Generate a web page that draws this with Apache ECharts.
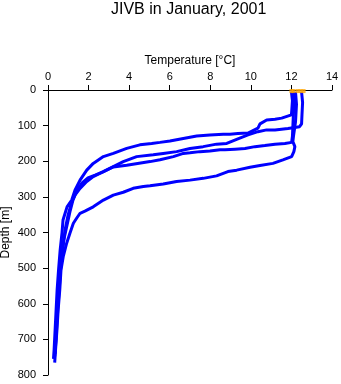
<!DOCTYPE html>
<html>
<head>
<meta charset="utf-8">
<script src="https://cdn.jsdelivr.net/npm/echarts@6/dist/echarts.min.js"></script>
<style>
html,body{margin:0;padding:0;background:#fff;}
#chart{width:341px;height:384px;}
</style>
</head>
<body>
<div id="chart"></div>
<script>
var titleText = 'JIVB in January, 2001';
var xName = 'Temperature [\u00B0C]';
var yName = 'Depth [m]';
var xTicks = [0, 2, 4, 6, 8, 10, 12, 14];
var yTicks = [0, 100, 200, 300, 400, 500, 600, 700, 800];

var p1Temp = [12.0, 12.05, 12.02, 12.0, 11.52, 11.19, 10.78, 10.45, 10.35, 9.86, 9.36, 8.97, 8.64, 7.98, 7.33, 6.67, 6.01, 5.52, 5.11, 4.53, 3.88, 3.22, 2.73, 2.23, 1.91, 1.58, 1.33, 1.17, 0.94, 0.74, 0.69, 0.6, 0.52, 0.45, 0.4, 0.35, 0.3, 0.27];
var p1Depth = [5, 30, 55, 70, 79, 82, 84, 95, 107, 121, 122, 124, 124, 126, 129, 136, 143, 147, 150, 154, 164, 178, 187, 206, 225, 253, 281, 309, 328, 365, 401, 449, 505, 561, 617, 674, 730, 755];

var p2Temp = [12.5, 12.55, 12.52, 12.5, 12.4, 11.83, 11.19, 10.78, 10.35, 9.86, 9.36, 8.81, 8.31, 7.65, 7.0, 6.34, 5.68, 5.19, 4.37, 3.71, 3.22, 2.73, 2.23, 1.91, 1.58, 1.33, 1.17, 0.99, 0.84, 0.72, 0.62, 0.55, 0.48, 0.42, 0.37, 0.33];
var p2Depth = [5, 35, 70, 95, 103, 108, 112, 112, 117, 126, 137, 150, 152, 159, 164, 173, 178, 182, 187, 201, 215, 229, 243, 257, 276, 295, 314, 351, 393, 449, 505, 561, 617, 674, 720, 748];

var p3Temp = [12.1, 12.12, 12.08, 12.05, 12.01, 11.68, 11.19, 10.69, 10.2, 9.71, 9.22, 8.72, 8.48, 7.98, 7.49, 7.0, 6.67, 6.18, 5.52, 5.03, 3.88, 3.22, 2.71, 2.32, 1.97, 1.68, 1.43, 1.23, 1.08, 0.94, 0.78, 0.66, 0.57, 0.5, 0.43, 0.38, 0.35];
var p3Depth = [5, 40, 90, 130, 147, 150, 152, 156, 159, 164, 166, 168, 168, 171, 173, 176, 178, 187, 196, 201, 211, 216, 230, 239, 247, 261, 281, 309, 342, 379, 420, 470, 520, 580, 640, 700, 740];

var p4Temp = [12.2, 12.25, 12.2, 12.1, 12.07, 12.17, 12.12, 12.01, 11.58, 11.09, 10.45, 9.96, 9.3, 8.87, 8.31, 7.65, 7.0, 6.34, 5.68, 5.03, 4.7, 4.2, 3.71, 3.22, 2.73, 2.23, 1.82, 1.58, 1.41, 1.25, 1.08, 0.92, 0.75, 0.64, 0.58, 0.5, 0.44, 0.37, 0.33];
var p4Depth = [5, 40, 90, 130, 145, 159, 173, 187, 196, 206, 212, 217, 225, 229, 241, 248, 253, 257, 264, 269, 271, 276, 287, 295, 309, 328, 340, 346, 360, 374, 402, 430, 468, 505, 561, 617, 674, 730, 765];

var surfTemp = [12.0, 12.1, 12.3, 12.45, 12.6];
var surfDepth = [3, 3, 3, 3, 3];

function zip(a, b) { var r = []; for (var i = 0; i < a.length; i++) r.push([a[i], b[i]]); return r; }

var FONT = 'Liberation Sans';
var profiles = [[p1Temp, p1Depth], [p2Temp, p2Depth], [p3Temp, p3Depth], [p4Temp, p4Depth]];
var series = profiles.map(function (p) {
  return {
    type: 'line', data: zip(p[0], p[1]), showSymbol: false, symbol: 'none',
    lineStyle: { color: '#0000ff', width: 3 }, itemStyle: { color: '#0000ff' },
    clip: false, animation: false, silent: true
  };
});
series.push({
  type: 'scatter', data: zip(surfTemp, surfDepth), symbol: 'rect', symbolSize: [4, 4],
  itemStyle: { color: '#ffa500' }, clip: false, z: 5, animation: false, silent: true
});

var chart = echarts.init(document.getElementById('chart'), null, { renderer: 'canvas' });
chart.setOption({
  backgroundColor: '#ffffff',
  animation: false,
  title: {
    text: titleText, left: 111, top: 2, padding: 0,
    textStyle: { fontFamily: FONT, fontSize: 16, fontWeight: 'normal', color: '#000' }
  },
  grid: { left: 48, top: 90, width: 284, height: 285, containLabel: false, outerBoundsMode: 'none' },
  xAxis: {
    type: 'value', position: 'top', min: xTicks[0], max: xTicks[xTicks.length - 1], interval: 2,
    name: xName, nameLocation: 'middle', nameGap: 23, nameMoveOverlap: false,
    nameTextStyle: { fontFamily: FONT, fontSize: 12, color: '#000' },
    axisLine: { show: true, onZero: false, lineStyle: { color: '#000', width: 1 } },
    axisTick: { show: true, inside: false, length: 5, lineStyle: { color: '#000', width: 1 } },
    axisLabel: { fontFamily: FONT, fontSize: 11, color: '#000', margin: 8, showMinLabel: true, showMaxLabel: true },
    splitLine: { show: false }
  },
  yAxis: {
    type: 'value', inverse: true, min: yTicks[0], max: yTicks[yTicks.length - 1], interval: 100,
    name: yName, nameLocation: 'middle', nameGap: 36, nameRotate: 90, nameMoveOverlap: false,
    nameTextStyle: { fontFamily: FONT, fontSize: 12, color: '#000' },
    axisLine: { show: true, onZero: false, lineStyle: { color: '#000', width: 1 } },
    axisTick: { show: true, inside: false, length: 5, lineStyle: { color: '#000', width: 1 } },
    axisLabel: { fontFamily: FONT, fontSize: 11, color: '#000', margin: 12, showMinLabel: true, showMaxLabel: true },
    splitLine: { show: false }
  },
  series: series
});
</script>
</body>
</html>
